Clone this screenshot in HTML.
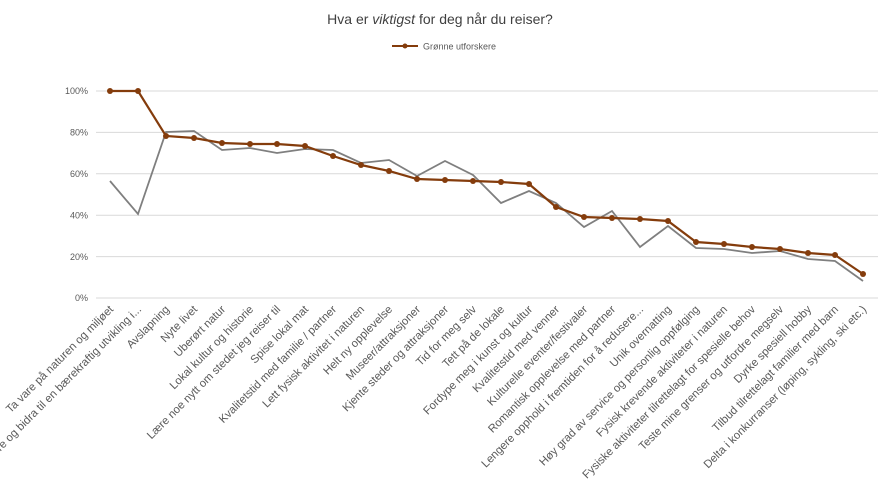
<!DOCTYPE html>
<html><head><meta charset="utf-8"><style>body{margin:0;background:#fff}svg{display:block;font-family:"Liberation Sans",Arial,sans-serif}</style></head><body>
<svg width="880" height="503" viewBox="0 0 880 503" xmlns="http://www.w3.org/2000/svg">
<rect width="880" height="503" fill="#fff"/>
<text x="440" y="24" text-anchor="middle" font-size="14" fill="#404040">Hva er <tspan font-style="italic">viktigst</tspan> for deg når du reiser?</text>
<line x1="392" y1="46" x2="418" y2="46" stroke="#843C0C" stroke-width="2"/><circle cx="405" cy="46" r="2.5" fill="#843C0C"/>
<text x="423" y="49.5" font-size="9" fill="#595959">Grønne utforskere</text>
<g stroke="#d9d9d9" stroke-width="1">
<line x1="96" y1="91" x2="878" y2="91"/><line x1="96" y1="132.4" x2="878" y2="132.4"/><line x1="96" y1="173.8" x2="878" y2="173.8"/><line x1="96" y1="215.2" x2="878" y2="215.2"/><line x1="96" y1="256.6" x2="878" y2="256.6"/><line x1="96" y1="298" x2="878" y2="298"/>
</g>
<g font-size="9" fill="#595959" text-anchor="end">
<text x="88" y="94">100%</text><text x="88" y="135.5">80%</text><text x="88" y="177">60%</text><text x="88" y="218.5">40%</text><text x="88" y="260">20%</text><text x="88" y="301">0%</text>
</g>
<polyline fill="none" stroke="#7f7f7f" stroke-width="1.8" points="110,181 138,214 166,132 194,131 222,150 250,148 277,153 305,149 333,150 361,163 389,160 417,176 445,161 473,175 501,203 529,191 556,203 584,227 612,211 640,247 668,226 696,248 724,249 752,253 780,251 808,259 835,261 863,281"/>
<g fill="#843C0C">
<polyline fill="none" stroke="#843C0C" stroke-width="2.2" points="110,91 138,91 166,136 194,138 222,143 250,144 277,144 305,146 333,156 361,165 389,171 417,179 445,180 473,181 501,182 529,184 556,207 584,217 612,218 640,219 668,221 696,242 724,244 752,247 780,249 808,253 835,255 863,274"/>
<circle cx="110" cy="91" r="3"/><circle cx="138" cy="91" r="3"/><circle cx="166" cy="136" r="3"/><circle cx="194" cy="138" r="3"/><circle cx="222" cy="143" r="3"/><circle cx="250" cy="144" r="3"/><circle cx="277" cy="144" r="3"/><circle cx="305" cy="146" r="3"/><circle cx="333" cy="156" r="3"/><circle cx="361" cy="165" r="3"/><circle cx="389" cy="171" r="3"/><circle cx="417" cy="179" r="3"/><circle cx="445" cy="180" r="3"/><circle cx="473" cy="181" r="3"/><circle cx="501" cy="182" r="3"/><circle cx="529" cy="184" r="3"/><circle cx="556" cy="207" r="3"/><circle cx="584" cy="217" r="3"/><circle cx="612" cy="218" r="3"/><circle cx="640" cy="219" r="3"/><circle cx="668" cy="221" r="3"/><circle cx="696" cy="242" r="3"/><circle cx="724" cy="244" r="3"/><circle cx="752" cy="247" r="3"/><circle cx="780" cy="249" r="3"/><circle cx="808" cy="253" r="3"/><circle cx="835" cy="255" r="3"/><circle cx="863" cy="274" r="3"/>
</g>
<g font-size="11.3" fill="#595959" text-anchor="end">
<text transform="translate(114,310) rotate(-45)">Ta vare på naturen og miljøet</text>
<text transform="translate(142,310) rotate(-45)">Lære og bidra til en bærekraftig utvikling i...</text>
<text transform="translate(170,310) rotate(-45)">Avslapning</text>
<text transform="translate(198,310) rotate(-45)">Nyte livet</text>
<text transform="translate(226,310) rotate(-45)">Uberørt natur</text>
<text transform="translate(254,310) rotate(-45)">Lokal kultur og historie</text>
<text transform="translate(281,310) rotate(-45)">Lære noe nytt om stedet jeg reiser til</text>
<text transform="translate(309,310) rotate(-45)">Spise lokal mat</text>
<text transform="translate(337,310) rotate(-45)">Kvalitetstid med familie / partner</text>
<text transform="translate(365,310) rotate(-45)">Lett fysisk aktivitet i naturen</text>
<text transform="translate(393,310) rotate(-45)">Helt ny opplevelse</text>
<text transform="translate(421,310) rotate(-45)">Museer/attraksjoner</text>
<text transform="translate(449,310) rotate(-45)">Kjente steder og attraksjoner</text>
<text transform="translate(477,310) rotate(-45)">Tid for meg selv</text>
<text transform="translate(505,310) rotate(-45)">Tett på de lokale</text>
<text transform="translate(533,310) rotate(-45)">Fordype meg i kunst og kultur</text>
<text transform="translate(560,310) rotate(-45)">Kvalitetstid med venner</text>
<text transform="translate(588,310) rotate(-45)">Kulturelle eventer/festivaler</text>
<text transform="translate(616,310) rotate(-45)">Romantisk opplevelse med partner</text>
<text transform="translate(644,310) rotate(-45)">Lengere opphold i fremtiden for å redusere...</text>
<text transform="translate(672,310) rotate(-45)">Unik overnatting</text>
<text transform="translate(700,310) rotate(-45)">Høy grad av service og personlig oppfølging</text>
<text transform="translate(728,310) rotate(-45)">Fysisk krevende aktiviteter i naturen</text>
<text transform="translate(756,310) rotate(-45)">Fysiske aktiviteter tilrettelagt for spesielle behov</text>
<text transform="translate(784,310) rotate(-45)">Teste mine grenser og utfordre megselv</text>
<text transform="translate(812,310) rotate(-45)">Dyrke spesiell hobby</text>
<text transform="translate(839,310) rotate(-45)">Tilbud tilrettelagt familier med barn</text>
<text transform="translate(867,310) rotate(-45)">Delta i konkurranser (løping, sykling, ski etc.)</text>
</g>
</svg>
</body></html>
